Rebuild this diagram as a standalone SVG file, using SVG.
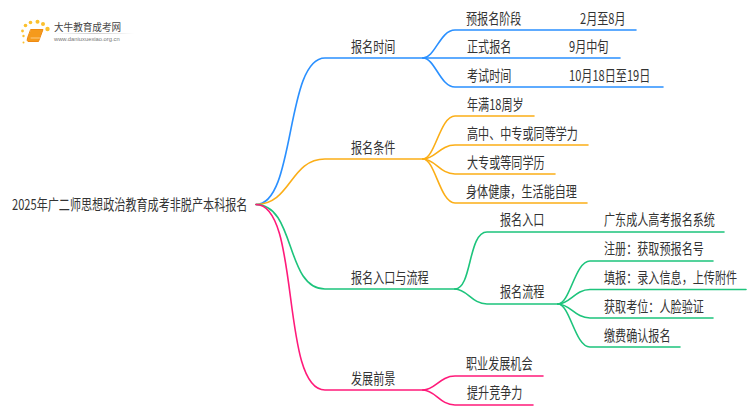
<svg xmlns="http://www.w3.org/2000/svg" width="750" height="410" viewBox="0 0 750 410">
<style>
text{font-family:"Noto Sans CJK SC","Liberation Sans",sans-serif;font-size:15px;fill:#333}
path{fill:none;stroke-width:1.6;stroke-linecap:round}
.b{stroke:#2a90ff}.o{stroke:#fbae17}.g{stroke:#1dc47c}.p{stroke:#ff1a7a}
.d{fill:#fbc02d}
</style>
<defs><linearGradient id="fade"><stop offset="0" stop-color="#ccc" stop-opacity="0"/><stop offset=".5" stop-color="#ccc"/><stop offset="1" stop-color="#ccc" stop-opacity="0"/></linearGradient></defs>
<rect width="750" height="410" fill="#fff"/>
<g id="logo">
<circle class="d" cx="25.500" cy="25.500" r="1.800"/><circle class="d" cx="22.500" cy="31" r="1.400"/><circle class="d" cx="30.500" cy="22.500" r="1.800"/><circle class="d" cx="37.500" cy="21.800" r="2"/><circle class="d" cx="43" cy="24" r="2"/><circle class="d" cx="47.500" cy="29" r="2.200"/><circle class="d" cx="23.500" cy="36" r="1.200"/><circle class="d" cx="23.500" cy="42.500" r="1"/>
<path d="M31 29.500H43L38.500 41.500H28Q26.500 41 27.500 38Z" style="fill:#f59a1c;stroke:#ef8a12;stroke-width:1"/>
<path d="M31 38H40" style="stroke:#ffd9a0;stroke-width:.8"/>
<rect x="54" y="33" width="80" height="1" fill="url(#fade)"/>
<text transform="matrix(.98 0 0 1 54 31)" style="font-size:9.800px;fill:#444">大牛教育成考网</text>
<text x="54" y="41" style="font-size:5.800px;fill:#777;font-family:'Liberation Sans',sans-serif">www.daniuxuexiao.org.cn</text>
</g>
<g id="connectors">
<path class="b" d="M256 204.500C296 204.500 285 58 325 58H423"/>
<path class="o" d="M256 204.500C291 204.500 290 159 325 159H423"/>
<path class="g" d="M256 204.500C296 204.500 285 289 325 289H455"/>
<path class="p" d="M256 204.500C301 204.500 280 390 325 390H423"/>
<path class="b" d="M423 58C435 58 440 30 455 30H636"/>
<path class="b" d="M423 58H620"/>
<path class="b" d="M423 58C435 58 440 87 455 87H663"/>
<path class="o" d="M423 159C435 159 440 116 455 116H534"/>
<path class="o" d="M423 159C435 159 440 145 455 145H588"/>
<path class="o" d="M423 159C435 159 440 174 455 174H555"/>
<path class="o" d="M423 159C435 159 440 203 455 203H587"/>
<path class="g" d="M455 289C472 289 468 232 487 232H724"/>
<path class="g" d="M455 289C467 289 472 304 487 304H558"/>
<path class="g" d="M558 304C570 304 575 261 590 261H713"/>
<path class="g" d="M558 304C570 304 575 289.500 590 289.500H746"/>
<path class="g" d="M558 304C570 304 575 318 590 318H713"/>
<path class="g" d="M558 304C570 304 575 347 590 347H680"/>
<path class="p" d="M423 390C435 390 440 376 455 376H543"/>
<path class="p" d="M423 390C435 390 440 405 455 405H533"/>
</g>
<g id="root"><text transform="matrix(.74 0 0 1 12 210)">2025年广二师思想政治教育成考非脱产本科报名</text></g>
<g id="n1"><text transform="matrix(.74 0 0 1 351 52)">报名时间</text></g>
<g id="n2"><text transform="matrix(.74 0 0 1 351 153)">报名条件</text></g>
<g id="n3"><text transform="matrix(.74 0 0 1 351 283)">报名入口与流程</text></g>
<g id="n4"><text transform="matrix(.74 0 0 1 351 384)">发展前景</text></g>
<g id="n1-1"><text transform="matrix(.74 0 0 1 466 24)">预报名阶段</text><text transform="matrix(.74 0 0 1 580 24)">2月至8月</text></g>
<g id="n1-2"><text transform="matrix(.74 0 0 1 467 52)">正式报名</text><text transform="matrix(.74 0 0 1 569 52)">9月中旬</text></g>
<g id="n1-3"><text transform="matrix(.74 0 0 1 467 81)">考试时间</text><text transform="matrix(.74 0 0 1 569 81)">10月18日至19日</text></g>
<g id="n2-1"><text transform="matrix(.74 0 0 1 467 110)">年满18周岁</text></g>
<g id="n2-2"><text transform="matrix(.74 0 0 1 467 139)">高中、中专或同等学力</text></g>
<g id="n2-3"><text transform="matrix(.74 0 0 1 467 168)">大专或等同学历</text></g>
<g id="n2-4"><text transform="matrix(.74 0 0 1 466 197)">身体健康，生活能自理</text></g>
<g id="n3-1"><text transform="matrix(.74 0 0 1 500 225)">报名入口</text><text transform="matrix(.74 0 0 1 604 225)">广东成人高考报名系统</text></g>
<g id="n3-2"><text transform="matrix(.74 0 0 1 500 297)">报名流程</text></g>
<g id="n3-2-1"><text transform="matrix(.74 0 0 1 604 254)">注册：获取预报名号</text></g>
<g id="n3-2-2"><text transform="matrix(.74 0 0 1 604 283)">填报：录入信息，上传附件</text></g>
<g id="n3-2-3"><text transform="matrix(.74 0 0 1 604 312)">获取考位：人脸验证</text></g>
<g id="n3-2-4"><text transform="matrix(.74 0 0 1 604 341)">缴费确认报名</text></g>
<g id="n4-1"><text transform="matrix(.74 0 0 1 466 369)">职业发展机会</text></g>
<g id="n4-2"><text transform="matrix(.74 0 0 1 467 398)">提升竞争力</text></g>
</svg>
